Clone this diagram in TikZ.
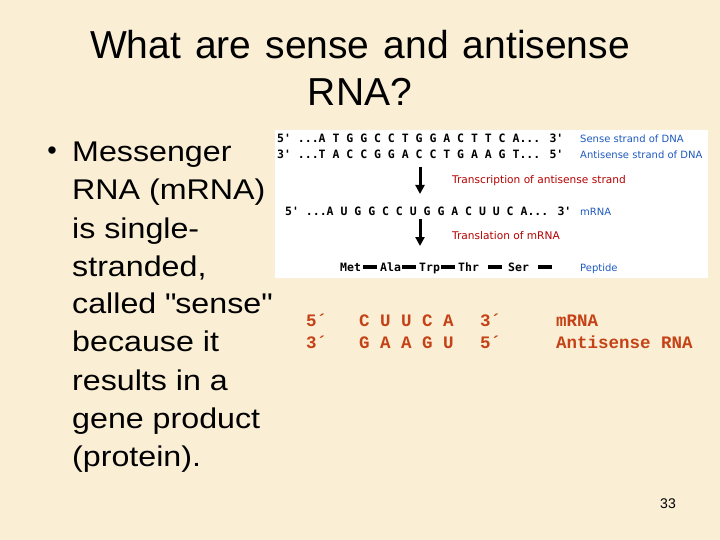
\documentclass[tikz,border=0pt]{standalone}
\usepackage{fontspec}
\setmainfont{Liberation Sans}
\newfontfamily\bulfont[FakeStretch=1.13]{Liberation Sans}
\newfontfamily\titfont[WordSpace=1.3]{Liberation Sans}
\newfontfamily\courb{Liberation Mono}
\newfontfamily\dmono{DejaVu Sans Mono}
\newfontfamily\dcond{DejaVu Sans}
\definecolor{bg}{RGB}{250,239,213}
\definecolor{rnared}{RGB}{196,66,22}
\definecolor{imgblue}{RGB}{30,90,190}
\definecolor{imgred}{RGB}{180,0,0}
\usetikzlibrary{arrows.meta}
\tikzset{
  titletxt/.style={font=\titfont\fontsize{39}{46}\selectfont, anchor=base, inner sep=0pt},
  bullettxt/.style={font=\bulfont\fontsize{28.5}{34}\selectfont, anchor=base west, inner sep=0pt},
  rnatxt/.style={font=\courb\bfseries\fontsize{17.5}{20}\selectfont, text=rnared, anchor=base west, inner sep=0pt},
  seqtxt/.style={font=\dmono\bfseries\fontsize{11.5}{13}\selectfont, anchor=base west, inner sep=0pt},
  bluelab/.style={font=\dcond\fontsize{10}{12}\selectfont, text=imgblue, anchor=base west, inner sep=0pt},
  redlab/.style={font=\dcond\fontsize{10.6}{12}\selectfont, text=imgred, anchor=base west, inner sep=0pt},
  bigarrow/.style={line width=3pt, -{Triangle[width=9pt,length=9pt]}},
  pepbar/.style={fill=black},
}
\begin{document}
\begin{tikzpicture}[x=1pt,y=-1pt]
\fill[bg] (0,0) rectangle (720,540);
\useasboundingbox (0,0) rectangle (720,540);
% title
\node[titletxt] (t1) at (360,59) {What are sense and antisense};
\node[titletxt] (t2) at (360,106) {RNA?};
% bullet
\node[font=\fontsize{27}{30}\selectfont, anchor=center, inner sep=0pt] (bul) at (52,153) {•};
\node[bullettxt] (b1) at (72,162) {Messenger};
\node[bullettxt] (b2) at (72,200) {RNA (mRNA)};
\node[bullettxt] (b3) at (72,238) {is single-};
\node[bullettxt] (b4) at (72,276) {stranded,};
\node[bullettxt] (b5) at (72,313) {called \textquotedbl sense\textquotedbl};
\node[bullettxt] (b6) at (72,351) {because it};
\node[bullettxt] (b7) at (72,390) {results in a};
\node[bullettxt] (b8) at (72,428) {gene product};
\node[bullettxt] (b9) at (72,466) {(protein).};
% image box
\fill[white] (275,130) rectangle (708,278);
\node[seqtxt] (s1) at (277,143) {5' ...A T G G C C T G G A C T T C A... 3'};
\node[seqtxt] (s2) at (277,159) {3' ...T A C C G G A C C T G A A G T... 5'};
\node[bluelab] (l1) at (580,143) {Sense strand of DNA};
\node[bluelab] (l2) at (580,159) {Antisense strand of DNA};
\coordinate (a1s) at (420,167);
\coordinate (a1e) at (420,194);
\draw[bigarrow] (a1s) -- (a1e);
\node[redlab] (tr) at (452,184) {Transcription of antisense strand};
\node[seqtxt] (m1) at (285,215) {5' ...A U G G C C U G G A C U U C A... 3'};
\node[bluelab] (l3) at (580,215) {mRNA};
\coordinate (a2s) at (420,219);
\coordinate (a2e) at (420,246);
\draw[bigarrow] (a2s) -- (a2e);
\node[redlab] (tl) at (452,240) {Translation of mRNA};
\node[seqtxt] (p1) at (340,271) {Met};
\fill[pepbar] (363,265) rectangle (377,269);
\node[seqtxt] (p2) at (380,271) {Ala};
\fill[pepbar] (402,265) rectangle (416,269);
\node[seqtxt] (p3) at (419,271) {Trp};
\fill[pepbar] (441,265) rectangle (455,269);
\node[seqtxt] (p4) at (458,271) {Thr};
\fill[pepbar] (488,265) rectangle (502,269);
\node[seqtxt] (p5) at (508,271) {Ser};
\fill[pepbar] (538,265) rectangle (552,269);
\node[bluelab] (l4) at (580,271) {Peptide};
% RNA table
\node[rnatxt] (r1a) at (306,326) {5´};
\node[rnatxt] (r1b) at (359,326) {C U U C A};
\node[rnatxt] (r1c) at (480,326) {3´};
\node[rnatxt] (r1d) at (556,326) {mRNA};
\node[rnatxt] (r2a) at (306,348) {3´};
\node[rnatxt] (r2b) at (359,348) {G A A G U};
\node[rnatxt] (r2c) at (480,348) {5´};
\node[rnatxt] (r2d) at (556,348) {Antisense RNA};
% page number
\node[font=\fontsize{14}{16}\selectfont, anchor=base, inner sep=0pt] (pg) at (668,508) {33};
\end{tikzpicture}
\end{document}
